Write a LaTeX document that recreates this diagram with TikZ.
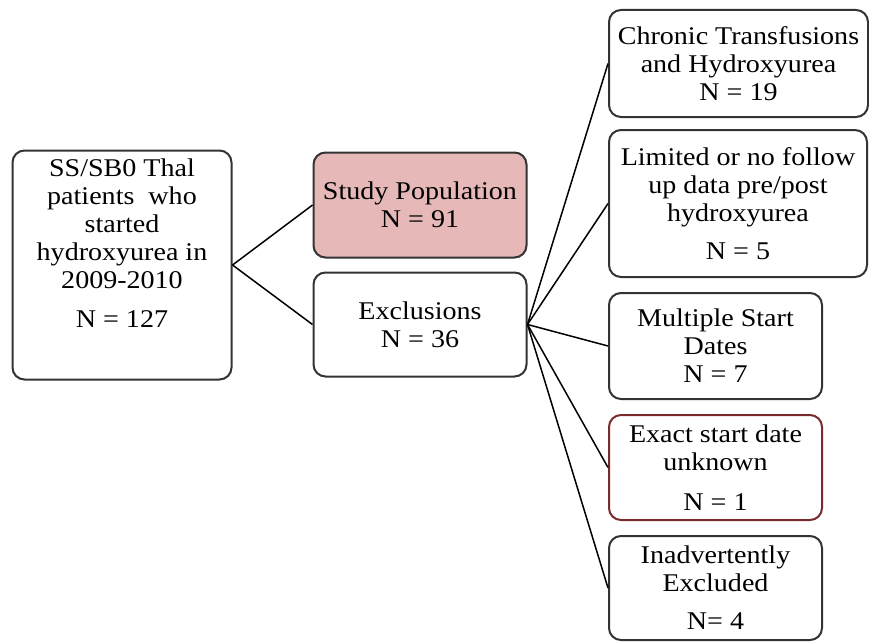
\documentclass[tikz,border=0pt]{standalone}
\usepackage{fontspec}
\setmainfont[FakeStretch=1.1]{Liberation Serif}
\usetikzlibrary{positioning}
\definecolor{studypink}{HTML}{E6B8B7}
\definecolor{darkred}{HTML}{7A2A2A}
\definecolor{boxgray}{HTML}{333333}

\begin{document}
\begin{tikzpicture}[
    x=1pt, y=-1pt,
    node distance=13pt,
    box/.style={rectangle, rounded corners=12pt, draw=boxgray, line width=2pt, align=center, inner sep=0pt, font=\fontsize{25.5}{28}\selectfont},
    link/.style={line width=1.5pt}
]
\useasboundingbox (0,0) rectangle (869,642);

\node[box, minimum width=219pt, minimum height=229pt] (cohort) at (122,265) {SS/SB0 Thal\\patients~ who\\started\\hydroxyurea in\\2009-2010\\[11pt]N = 127\rule[-44pt]{0pt}{0pt}};

\node[box, fill=studypink, minimum width=213pt, minimum height=105pt] (study) at (420,205) {Study Population\\N = 91};
\node[box, minimum width=213pt, minimum height=104pt, below=of study] (excl) {Exclusions\\N = 36};

\node[box, minimum width=259pt, minimum height=107pt, anchor=north west] (chronic) at (608,9) {Chronic Transfusions\\and Hydroxyurea\\N = 19};
\node[box, minimum width=258pt, minimum height=147pt, below=11pt of chronic.south west, anchor=north west] (limited) {Limited or no follow\\up data pre/post\\hydroxyurea\\[10pt]N = 5};
\node[box, minimum width=213pt, minimum height=106pt, below=14pt of limited.south west, anchor=north west] (multiple) {Multiple Start\\Dates\\N = 7};
\node[box, draw=darkred, minimum width=213pt, minimum height=105pt, below=14pt of multiple.south west, anchor=north west] (exact) {Exact start date\\unknown\\[12pt]N = 1};
\node[box, minimum width=213pt, minimum height=104pt, below=14pt of exact.south west, anchor=north west] (inadv) {Inadvertently\\Excluded\\[10pt]N= 4};

\draw[link] (cohort.east) -- (study.west);
\draw[link] (cohort.east) -- (excl.west);
\foreach \b in {chronic, limited, multiple, exact, inadv}
    \draw[link] (excl.east) -- (\b.west);

\end{tikzpicture}
\end{document}
